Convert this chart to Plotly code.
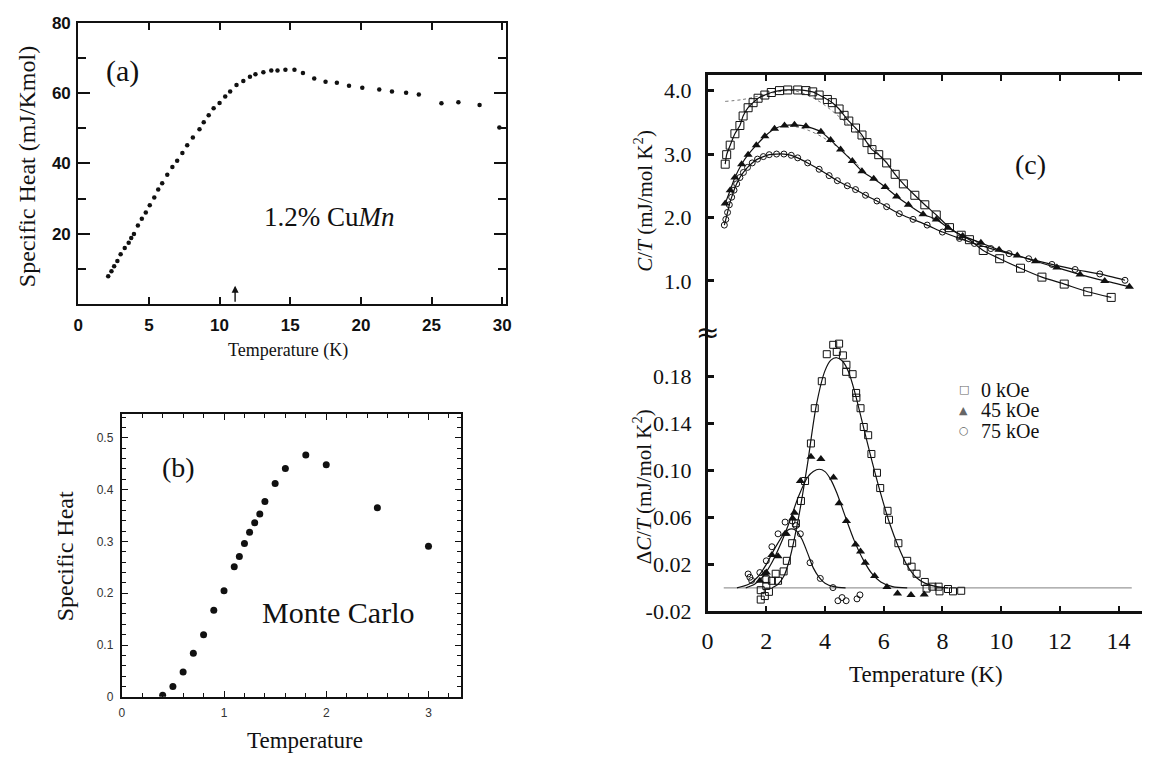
import plotly.graph_objects as go

# ---------------- panel (a): 1.2% CuMn specific heat ----------------
a_T = [2.12, 2.35, 2.54, 2.77, 3.0, 3.29, 3.57, 3.75, 3.94, 4.22,
       4.5, 4.78, 5.06, 5.38, 5.66, 5.94, 6.3, 6.66, 7.0, 7.37,
       7.71, 8.11, 8.58, 8.88, 9.23, 9.58, 10.0, 10.4, 10.75, 11.2,
       11.68, 12.15, 12.54, 13.1, 13.66, 14.1, 14.66, 15.3, 15.9, 16.7,
       17.5, 18.3, 19.16, 20.1, 21.3, 22.2, 23.2, 24.1, 25.7, 26.9,
       28.4, 29.8]
a_C = [8.0, 9.4, 10.8, 12.3, 14.2, 16.0, 17.5, 18.8, 20.0, 22.4,
       24.3, 26.1, 28.1, 30.3, 32.6, 34.4, 36.8, 39.0, 40.8, 43.0,
       45.2, 47.4, 49.7, 51.7, 53.7, 55.7, 57.2, 59.0, 60.4, 62.3,
       63.4, 64.6, 65.3, 65.9, 66.4, 66.4, 66.6, 66.6, 65.7, 64.1,
       63.2, 62.9, 62.1, 61.5, 61.0, 60.4, 60.1, 59.6, 57.1, 57.4,
       56.6, 50.2]
a_Tf = 11.1          # freezing temperature marked by the arrow
a_xticks = [0, 5, 10, 15, 20, 25, 30]
a_yticks = [20, 40, 60, 80]
a_yminor = [10, 30, 50, 70]

# ---------------- panel (b): Monte Carlo ----------------
b_T = [0.4, 0.5, 0.6, 0.7, 0.8, 0.9, 1.0, 1.1, 1.15, 1.2,
       1.25, 1.3, 1.35, 1.4, 1.5, 1.6, 1.8, 2.0, 2.5, 3.0]
b_C = [0.003, 0.020, 0.048, 0.084, 0.120, 0.167, 0.205, 0.251, 0.271, 0.296,
       0.318, 0.336, 0.353, 0.377, 0.412, 0.441, 0.467, 0.448, 0.365, 0.291]

# ---------------- panel (c) upper: C/T ----------------
sq_T = [0.6, 0.65, 0.77, 0.93, 1.1, 1.21, 1.38, 1.55, 1.72, 1.95,
        2.17, 2.45, 2.73, 3.07, 3.35, 3.58, 3.8, 4.08, 4.25, 4.48,
        4.65, 4.81, 5.04, 5.26, 5.43, 5.6, 5.83, 6.1, 6.39, 6.67,
        7.06, 7.4, 7.79, 8.24, 8.64, 8.92, 9.39, 9.95, 10.66, 11.39,
        12.15, 12.95, 13.75]
sq_v = [2.84, 2.99, 3.14, 3.32, 3.45, 3.60, 3.73, 3.81, 3.88, 3.93,
        3.97, 4.0, 4.01, 4.01, 4.0, 3.98, 3.93, 3.86, 3.81, 3.71,
        3.61, 3.52, 3.41, 3.30, 3.18, 3.07, 2.99, 2.86, 2.68, 2.53,
        2.35, 2.20, 2.04, 1.84, 1.72, 1.65, 1.48, 1.35, 1.20, 1.06,
        0.95, 0.83, 0.74]
tr_T = [0.6, 0.77, 0.93, 1.16, 1.38, 1.66, 1.95, 2.28, 2.62, 2.96,
        3.35, 3.86, 4.19, 4.53, 4.93, 5.26, 5.66, 6.05, 6.44, 6.84,
        7.34, 7.79, 8.19, 8.69, 9.31, 9.93, 10.55, 11.17, 11.9, 12.69,
        13.53, 14.37]
tr_v = [2.22, 2.43, 2.63, 2.84, 2.99, 3.14, 3.28, 3.40, 3.45, 3.46,
        3.44, 3.35, 3.22, 3.07, 2.89, 2.73, 2.61, 2.48, 2.33, 2.20,
        2.05, 1.97, 1.84, 1.71, 1.60, 1.49, 1.40, 1.31, 1.21, 1.10,
        1.00, 0.91]
ci_T = [0.57, 0.62, 0.68, 0.74, 0.82, 0.9, 0.99, 1.1, 1.22, 1.36,
        1.52, 1.7, 1.9, 2.1, 2.35, 2.6, 2.85, 3.07, 3.41, 3.8,
        4.14, 4.42, 4.76, 5.04, 5.38, 5.77, 6.1, 6.53, 7.0, 7.48,
        8.0, 8.58, 9.09, 9.65, 10.27, 10.94, 11.73, 12.52, 13.36, 14.22]
ci_v = [1.88, 1.97, 2.08, 2.2, 2.32, 2.43, 2.53, 2.63, 2.71, 2.79,
        2.86, 2.92, 2.96, 2.99, 3.0, 3.0, 2.98, 2.94, 2.86, 2.76,
        2.66, 2.58, 2.50, 2.44, 2.35, 2.26, 2.17, 2.06, 1.97, 1.88,
        1.77, 1.67, 1.59, 1.51, 1.43, 1.35, 1.26, 1.18, 1.11, 1.01]
# dotted background curves
bg0_T = [0.6, 1.2, 1.8, 2.4, 2.9, 3.4, 3.9, 4.4, 4.9, 5.4, 5.9, 6.4]
bg0_v = [3.83, 3.86, 3.92, 3.98, 4.0, 3.93, 3.80, 3.62, 3.42, 3.20, 2.97, 2.72]
bg45_T = [2.6, 3.0, 3.4, 3.9, 4.4, 4.9, 5.3]
bg45_v = [3.45, 3.43, 3.38, 3.27, 3.12, 2.92, 2.75]
c_top_ticks = [1, 2, 3, 4]
c_top_labels = ["1.0", "2.0", "3.0", "4.0"]

# ---------------- panel (c) lower: delta C/T ----------------
dsq_T = [1.81, 1.81, 1.95, 2.0, 2.0, 2.09, 2.19, 2.32, 2.4, 2.59,
         2.7, 2.88, 3.01, 3.18, 3.32, 3.52, 3.65, 3.89, 4.06, 4.28,
         4.40, 4.48, 4.61, 4.72, 4.73, 4.94, 5.06, 5.07, 5.21, 5.32,
         5.47, 5.58, 5.77, 5.88, 6.13, 6.18, 6.5, 6.8, 6.95, 7.12,
         7.4, 7.46, 7.66, 7.87, 7.9, 8.19, 8.36, 8.64]
dsq_v = [-0.002, -0.010, -0.007, 0.0016, 0.007, -0.0034, 0.006, 0.012, 0.006, 0.014,
         0.023, 0.038, 0.055, 0.074, 0.091, 0.123, 0.153, 0.176, 0.199, 0.207,
         0.201, 0.208, 0.198, 0.184, 0.190, 0.182, 0.166, 0.162, 0.153, 0.137,
         0.130, 0.114, 0.098, 0.085, 0.0656, 0.058, 0.038, 0.023, 0.018, 0.012,
         0.005, -0.0006, 0.001, 0.001, -0.003, -0.001, -0.003, -0.0025]
dtr_T = [1.78, 1.95, 2.0, 2.19, 2.4, 2.64, 2.68, 2.9, 2.96, 3.16,
         3.52, 3.86, 4.29, 4.48, 4.73, 5.04, 5.21, 5.37, 5.69, 6.11,
         6.47, 6.93, 7.38]
dtr_v = [0.006, 0.012, 0.013, 0.028, 0.027, 0.046, 0.046, 0.059, 0.064, 0.091,
         0.1116, 0.1097, 0.094, 0.072, 0.057, 0.037, 0.031, 0.0214, 0.010, 0.0008,
         -0.0048, -0.006, -0.0056]
dci_T = [1.38, 1.44, 1.50, 1.78, 2.0, 2.19, 2.4, 2.64, 2.88, 3.01,
         3.16, 3.49, 3.84, 4.27, 4.44, 4.58, 4.72, 5.09, 5.19]
dci_v = [0.0118, 0.009, 0.0063, 0.013, 0.023, 0.035, 0.046, 0.056, 0.057, 0.053,
         0.046, 0.0214, 0.008, 0.0002, -0.011, -0.0083, -0.011, -0.0094, -0.006]
# fitted peaks
fsq_T = [2.2, 2.4, 2.6, 2.8, 3.1, 3.4, 3.7, 4.0, 4.2, 4.4, 4.6, 4.8,
         5.0, 5.3, 5.6, 5.9, 6.2, 6.5, 6.8, 7.1, 7.4, 7.8, 8.2]
fsq_v = [0.0, 0.003, 0.01, 0.025, 0.06, 0.105, 0.155, 0.185, 0.194, 0.196, 0.193, 0.184,
         0.168, 0.138, 0.108, 0.08, 0.055, 0.035, 0.019, 0.009, 0.004, 0.001, 0.0]
ftr_T = [1.3, 1.6, 1.9, 2.2, 2.5, 2.8, 3.1, 3.4, 3.6, 3.8, 4.0, 4.2,
         4.4, 4.7, 5.0, 5.3, 5.6, 5.9, 6.3, 6.8]
ftr_v = [0.0, 0.003, 0.01, 0.022, 0.038, 0.057, 0.078, 0.094, 0.099, 0.101, 0.099, 0.092,
         0.081, 0.06, 0.04, 0.024, 0.012, 0.005, 0.001, 0.0]
fci_T = [1.0, 1.4, 1.7, 2.0, 2.3, 2.6, 2.8, 3.0, 3.2, 3.4, 3.6, 3.8, 4.0, 4.3, 4.7]
fci_v = [0.0, 0.003, 0.009, 0.02, 0.034, 0.046, 0.05, 0.049, 0.042, 0.03, 0.017,
         0.009, 0.004, 0.001, 0.0]
base_T = [0.55, 14.45]
base_v = [0.0, 0.0]
c_bot_ticks = [-0.02, 0.02, 0.06, 0.10, 0.14, 0.18]
c_bot_labels = ["-0.02", "0.02", "0.06", "0.10", "0.14", "0.18"]
c_xticks = [0, 2, 4, 6, 8, 10, 12, 14]
fields = ["0 kOe", "45 kOe", "75 kOe"]

# ---------------- geometry helpers (pixels -> paper) ----------------
W, H = 1150, 771


def fx(px):
    return px / W


def fy(py):
    return 1 - py / H


SERIF = "Liberation Serif"
SANS = "Liberation Sans"
BLACK = "#111111"

fig = go.Figure()

# panel (a)
fig.add_trace(go.Scatter(x=a_T, y=a_C, mode="markers", xaxis="x", yaxis="y",
                         marker=dict(size=4.5, color=BLACK), showlegend=False))
# panel (b)
fig.add_trace(go.Scatter(x=b_T, y=b_C, mode="markers", xaxis="x2", yaxis="y2",
                         marker=dict(size=7, color=BLACK), showlegend=False))

# panel (c) upper
for tx, ty in [(bg0_T, bg0_v), (bg45_T, bg45_v)]:
    fig.add_trace(go.Scatter(x=tx, y=ty, mode="lines", xaxis="x3", yaxis="y3",
                             line=dict(color="#777777", width=1, dash="dot", shape="spline"),
                             showlegend=False))
sym = dict(
    sq=dict(symbol="square-open", size=8, color=BLACK, line=dict(width=1, color=BLACK)),
    tr=dict(symbol="triangle-up", size=8, color=BLACK),
    ci=dict(symbol="circle-open", size=6, color=BLACK, line=dict(width=1, color=BLACK)),
)
for tx, ty, key in [(ci_T, ci_v, "ci"), (tr_T, tr_v, "tr"), (sq_T, sq_v, "sq")]:
    fig.add_trace(go.Scatter(x=tx, y=ty, mode="lines+markers", xaxis="x3", yaxis="y3",
                             line=dict(color=BLACK, width=1.2, shape="spline", smoothing=0.6),
                             marker=sym[key], showlegend=False))

# panel (c) lower
fig.add_trace(go.Scatter(x=base_T, y=base_v, mode="lines", xaxis="x4", yaxis="y4",
                         line=dict(color="#999999", width=1.2), showlegend=False))
for tx, ty in [(fsq_T, fsq_v), (ftr_T, ftr_v), (fci_T, fci_v)]:
    fig.add_trace(go.Scatter(x=tx, y=ty, mode="lines", xaxis="x4", yaxis="y4",
                             line=dict(color=BLACK, width=1.2, shape="spline", smoothing=0.8),
                             showlegend=False))
dsym = dict(
    sq=dict(symbol="square-open", size=7, color=BLACK, line=dict(width=1, color=BLACK)),
    tr=dict(symbol="triangle-up", size=8, color=BLACK),
    ci=dict(symbol="circle-open", size=6, color=BLACK, line=dict(width=1, color=BLACK)),
)
for tx, ty, key in [(dci_T, dci_v, "ci"), (dtr_T, dtr_v, "tr"), (dsq_T, dsq_v, "sq")]:
    fig.add_trace(go.Scatter(x=tx, y=ty, mode="markers", xaxis="x4", yaxis="y4",
                             marker=dsym[key], showlegend=False))

# ---------------- axes ----------------
ax_common = dict(showgrid=False, zeroline=False, showline=True, linecolor=BLACK,
                 tickcolor=BLACK, ticks="inside")
fig.update_layout(
    xaxis=dict(ax_common, domain=[fx(73), fx(505)], range=[0, 30.25], anchor="y",
               tickvals=a_xticks, ticklen=7, tickwidth=1.5, linewidth=2, mirror="ticks",
               tickfont=dict(family=SANS, size=17, color=BLACK, weight="bold"),
               ticklabelstandoff=4),
    yaxis=dict(ax_common, domain=[fy(304), fy(14)], range=[0, 80], anchor="x",
               tickvals=a_yticks, ticklen=12, tickwidth=1.5, linewidth=2, mirror="ticks",
               minor=dict(tickvals=a_yminor, ticks="inside", ticklen=8, tickwidth=1.5,
                          tickcolor=BLACK),
               tickfont=dict(family=SANS, size=17, color=BLACK, weight="bold"),
               ticklabelstandoff=2),
    xaxis2=dict(ax_common, domain=[fx(117), fx(460)], range=[0, 3.32], anchor="y2",
                dtick=1, tick0=0, ticklen=6, tickwidth=1.2, linewidth=2, mirror="ticks",
                minor=dict(dtick=0.2, ticks="inside", ticklen=4, tickwidth=1, tickcolor=BLACK),
                tickfont=dict(family=SANS, size=12, color="#333333"), ticklabelstandoff=4),
    yaxis2=dict(ax_common, domain=[fy(708), fy(417)], range=[0, 0.546], anchor="x2",
                dtick=0.1, tick0=0, ticklen=6, tickwidth=1.2, linewidth=2, mirror="ticks",
                minor=dict(dtick=0.02, ticks="inside", ticklen=4, tickwidth=1, tickcolor=BLACK),
                tickfont=dict(family=SANS, size=12, color="#333333"), ticklabelstandoff=4),
    xaxis3=dict(ax_common, domain=[fx(709), fx(1148)], range=[0, 14.8], anchor="y3",
                side="top", tickvals=c_xticks[1:], showticklabels=False, ticklen=6,
                tickwidth=2, linewidth=2.5),
    yaxis3=dict(ax_common, domain=[fy(333), fy(68)], range=[0.187, 4.245], anchor="x3",
                tickvals=c_top_ticks, ticktext=c_top_labels, ticklen=7, tickwidth=2.5,
                linewidth=2.5, tickfont=dict(family=SERIF, size=22, color=BLACK),
                ticklabelstandoff=9),
    yaxis5=dict(ax_common, overlaying="y3", side="right", anchor="x3", range=[0.187, 4.245],
                tickvals=c_top_ticks, showticklabels=False, showline=False, ticklen=6,
                tickwidth=2.5),
    xaxis4=dict(ax_common, domain=[fx(709), fx(1148)], range=[0, 14.8], anchor="y4",
                tickvals=c_xticks, ticklen=6, tickwidth=2, linewidth=2.5,
                tickfont=dict(family=SERIF, size=24, color=BLACK), ticklabelstandoff=6),
    yaxis4=dict(ax_common, domain=[fy(620), fy(333)], range=[-0.02, 0.2175], anchor="x4",
                tickvals=c_bot_ticks, ticktext=c_bot_labels, ticklen=7, tickwidth=2.5,
                linewidth=2.5, tickfont=dict(family=SERIF, size=22, color=BLACK),
                ticklabelstandoff=9),
    yaxis6=dict(ax_common, overlaying="y4", side="right", anchor="x4", range=[-0.02, 0.2175],
                tickvals=c_bot_ticks[1:], showticklabels=False, showline=False, ticklen=6,
                tickwidth=2.5),
)

# ---------------- text ----------------
ann = []


def text(px, py, s, size, angle=0, xanchor="center", family=SERIF, color=BLACK):
    ann.append(dict(x=fx(px), y=fy(py), xref="paper", yref="paper", text=s,
                    showarrow=False, textangle=angle, xanchor=xanchor, yanchor="middle",
                    font=dict(family=family, size=size, color=color)))


text(22, 162, "Specific Heat (mJ/Kmol)", 24, angle=-90)
text(285, 352, "Temperature (K)", 18)
text(118, 64, "(a)", 30)
text(259, 214, "1.2% Cu<i>Mn</i>", 27, xanchor="left")

text(60, 563, "Specific Heat", 24, angle=-90)
text(302, 753, "Temperature", 23)
text(174, 472, "(b)", 28)
text(335, 621, "Monte Carlo", 30)

text(644, 197, "<i>C</i>/<i>T</i> (mJ/mol K<sup>2</sup>)", 21, angle=-90)
text(644, 492, "Δ<i>C</i>/<i>T</i> (mJ/mol K<sup>2</sup>)", 21, angle=-90)
text(930, 685, "Temperature (K)", 23)
text(1035, 160, "(c)", 28)
text(709, 333, "≈", 28, family="DejaVu Sans")

legend_marks = ["□", "▲", "○"]
for i, (m, lab) in enumerate(zip(legend_marks, fields)):
    yy = 392 + 21 * i
    text(968, yy, m, 11, family="DejaVu Sans", color="#666666")
    text(983, yy, lab, 20, xanchor="left")

# arrow marking the freezing temperature in panel (a)
ann.append(dict(x=a_Tf, y=5.3, ax=a_Tf, ay=0.3, xref="x", yref="y", axref="x", ayref="y",
                text="", showarrow=True, arrowhead=2, arrowsize=1, arrowwidth=1.4,
                arrowcolor=BLACK))

fig.update_layout(annotations=ann, width=W, height=H,
                  margin=dict(l=0, r=0, t=0, b=0),
                  paper_bgcolor="white", plot_bgcolor="white", showlegend=False)

fig.write_html("out.html", post_script="document.body.style.margin='0px';")
